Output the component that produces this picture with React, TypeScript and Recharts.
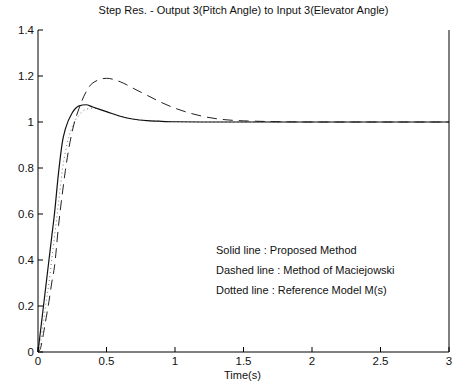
import { LineChart, Line, XAxis, YAxis } from "recharts";

const time = [0, 0.02, 0.04, 0.06, 0.08, 0.1, 0.12, 0.15, 0.18, 0.2, 0.25, 0.3, 0.35, 0.4, 0.5, 0.6, 0.7, 0.8, 0.9, 1.0, 1.2, 1.5, 2, 2.5, 3];
const proposed = [0, 0.1, 0.2, 0.3, 0.4, 0.5, 0.6, 0.78, 0.92, 0.97, 1.04, 1.07, 1.075, 1.065, 1.045, 1.025, 1.012, 1.006, 1.003, 1.001, 1.0, 1.0, 1, 1, 1];
const maciejowski = [0, 0.02, 0.08, 0.15, 0.22, 0.3, 0.37, 0.55, 0.7, 0.79, 0.96, 1.06, 1.13, 1.17, 1.19, 1.175, 1.145, 1.115, 1.085, 1.06, 1.025, 1.005, 1, 1, 1];
const reference = [0, 0.05, 0.13, 0.22, 0.3, 0.4, 0.5, 0.65, 0.8, 0.87, 0.98, 1.03, 1.055, 1.06, 1.045, 1.025, 1.012, 1.006, 1.003, 1.001, 1, 1, 1, 1, 1];

const xTicks = [0, 0.5, 1, 1.5, 2, 2.5, 3];
const yTicks = [0, 0.2, 0.4, 0.6, 0.8, 1, 1.2, 1.4];
const legendLines = [
  "Solid line : Proposed Method",
  "Dashed line : Method of Maciejowski",
  "Dotted line : Reference Model M(s)",
];

const data = time.map((t, i) => ({
  t,
  proposed: proposed[i],
  maciejowski: maciejowski[i],
  reference: reference[i],
}));

const FONT = "'Liberation Sans', Arial, sans-serif";

function BottomTick({ x, y, payload }: any) {
  return (
    <g>
      <line x1={x} y1={y} x2={x} y2={y - 5} stroke="#000" />
      <text x={x} y={y + 13} textAnchor="middle" fontSize={11.5} fontFamily={FONT} fill="#111">
        {payload.value}
      </text>
    </g>
  );
}

function LeftTick({ x, y, payload }: any) {
  return (
    <g>
      <line x1={x} y1={y} x2={x + 5} y2={y} stroke="#000" />
      <text x={x - 4} y={y + 4} textAnchor="end" fontSize={11.5} fontFamily={FONT} fill="#111">
        {payload.value}
      </text>
    </g>
  );
}

function TopTick({ x, y }: any) {
  return <line x1={x} y1={y} x2={x} y2={y + 5} stroke="#000" />;
}

function RightTick({ x, y }: any) {
  return <line x1={x} y1={y} x2={x - 5} y2={y} stroke="#000" />;
}

export default function App() {
  return (
    <div style={{ position: "absolute", left: 0, top: 0, width: 455, height: 388, background: "#fff", fontFamily: FONT }}>
      <div style={{ position: "absolute", left: 38, width: 411, top: 4, textAlign: "center", fontSize: 11, color: "#111" }}>
        Step Res. - Output 3(Pitch Angle) to Input 3(Elevator Angle)
      </div>
      <LineChart width={455} height={388} data={data} margin={{ top: 30, right: 5, bottom: 0, left: 0 }}>
        <XAxis
          dataKey="t"
          type="number"
          domain={[0, 3]}
          ticks={xTicks}
          tickSize={0}
          tickMargin={0}
          tick={<BottomTick />}
          stroke="#000"
          height={36}
          interval={0}
        />
        <XAxis
          xAxisId="top"
          orientation="top"
          dataKey="t"
          type="number"
          domain={[0, 3]}
          ticks={xTicks}
          tickSize={0}
          tickMargin={0}
          tick={<TopTick />}
          stroke="#000"
          height={0}
          interval={0}
        />
        <YAxis
          type="number"
          domain={[0, 1.4]}
          ticks={yTicks}
          tickSize={0}
          tickMargin={0}
          tick={<LeftTick />}
          stroke="#000"
          width={38}
          interval={0}
        />
        <YAxis
          yAxisId="right"
          orientation="right"
          type="number"
          domain={[0, 1.4]}
          ticks={yTicks}
          tickSize={0}
          tickMargin={0}
          tick={<RightTick />}
          stroke="#000"
          width={1}
          interval={0}
        />
        <Line dataKey="reference" type="monotone" stroke="#777" strokeWidth={1} strokeDasharray="1 3" dot={false} isAnimationActive={false} />
        <Line dataKey="maciejowski" type="monotone" stroke="#222" strokeWidth={1} strokeDasharray="10 6" dot={false} isAnimationActive={false} />
        <Line dataKey="proposed" type="monotone" stroke="#111" strokeWidth={1.2} dot={false} isAnimationActive={false} />
      </LineChart>
      <div style={{ position: "absolute", left: 0, width: 455, top: 369, textAlign: "center", paddingLeft: 30, boxSizing: "border-box", fontSize: 11, color: "#111" }}>
        Time(s)
      </div>
      {legendLines.map((s, i) => (
        <div key={s} style={{ position: "absolute", left: 216, top: 244 + i * 20, fontSize: 11, color: "#111", whiteSpace: "nowrap" }}>
          {s}
        </div>
      ))}
    </div>
  );
}
